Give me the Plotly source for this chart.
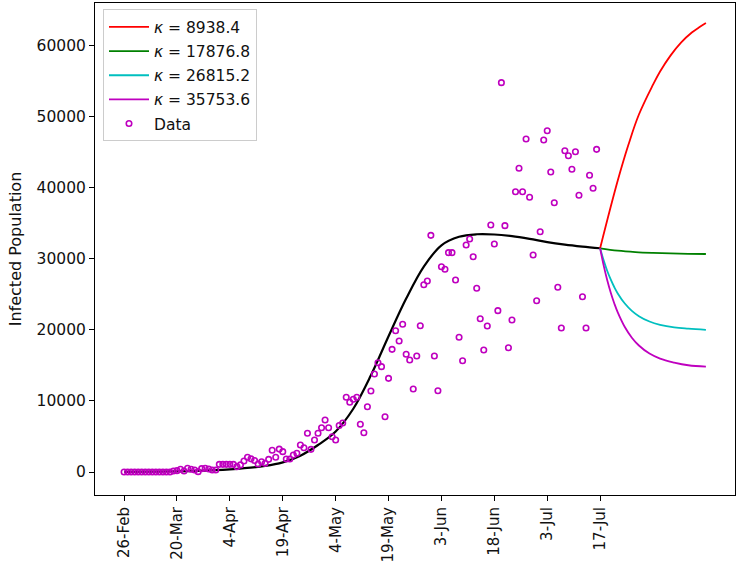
import plotly.graph_objects as go

# ---------------- data ----------------
tick_days = [0, 15, 30, 45, 60, 75, 90, 105, 120, 135]
tick_labels = ["26-Feb", "20-Mar", "4-Apr", "19-Apr", "4-May", "19-May",
               "3-Jun", "18-Jun", "3-Jul", "17-Jul"]

data_values = (
    [0] * 14
    + [140, 190, 380, 140, 520, 380, 280, 50, 470, 520, 420, 280, 280]
    + [1080] * 5
    + [750, 1000, 1550, 2070, 1850, 1620, 1125, 1450, 1220, 1780, 3050, 2070, 3220]
    + [2860, 1830, 1830, 2390, 2630, 3800, 3420, 5450, 3190, 4500, 5450, 6230,
       7320, 6230, 4970, 4500, 6540, 6900]
    + [10510, 9810, 10230, 10510, 6710, 5530, 9190, 11400, 13790, 15380, 14820,
       7780, 13180, 17260, 19880, 18430, 20780, 16560, 15760, 11680, 16320, 20580]
    + [26350, 26870, 33300, 16320, 11440, 28890, 28520, 30860, 30860, 27010,
       18950, 15660, 31940, 32780, 30290, 25850, 21570, 17170, 20540, 34750,
       32080, 22700]
    + [54780, 34660, 17490, 21390, 39440, 42730, 39440, 46850, 38650, 30530,
       24100, 33810, 46710, 48020, 42210, 37890, 25990, 20260, 45210, 44500,
       42590, 45070, 38930, 24660, 20260, 41750, 39920, 45400]
)
data_days = list(range(len(data_values)))

fit_days = [0, 10, 20, 30, 40, 45, 50, 55, 60, 65, 70, 75, 80, 85, 90, 95,
            100, 105, 110, 115, 120, 125, 130, 135]
fit_values = [20, 60, 150, 380, 850, 1350, 2300, 3800, 5700, 8900, 13600,
              19100, 24400, 28900, 31900, 33100, 33450, 33420, 33180, 32800,
              32350, 32000, 31720, 31480]

red_days = [135, 140, 143, 146, 150, 152, 155, 158, 161, 163, 165]
red_values = [31480, 41000, 46000, 50300, 54500, 56350, 58620, 60450, 61830,
              62540, 63170]

green_days = [135, 140, 145, 150, 155, 160, 165]
green_values = [31480, 31150, 30950, 30830, 30750, 30700, 30670]

cyan_days = [135, 136, 137, 138, 139, 140, 142, 144, 146, 149, 152, 156, 160, 165]
cyan_values = [31480, 29780, 28320, 27090, 26030, 25130, 23710, 22680, 21930,
               21170, 20710, 20350, 20160, 19990]

mag_days = [135, 136, 137, 138, 139, 140, 142, 144, 146, 149, 152, 156, 160, 165]
mag_values = [31480, 29070, 27010, 25260, 23750, 22460, 20400, 18900, 17800,
              16660, 15950, 15400, 15020, 14830]

kappa_labels = ["8938.4", "17876.8", "26815.2", "35753.6"]

# ---------------- figure ----------------
FONT = "DejaVu Sans"
TXT = "#111111"
fig = go.Figure()

fig.add_trace(go.Scatter(x=fit_days, y=fit_values, mode="lines",
                         line=dict(color="black", width=2.2, shape="spline"),
                         showlegend=False))

proj = [(red_days, red_values, "#ff0000"),
        (green_days, green_values, "#008000"),
        (cyan_days, cyan_values, "#00bfbf"),
        (mag_days, mag_values, "#bf00bf")]
for i, (dx, dy, col) in enumerate(proj):
    fig.add_trace(go.Scatter(x=dx, y=dy, mode="lines",
                             line=dict(color=col, width=1.8, shape="spline",
                                       smoothing=1.1),
                             name=f"<i>κ</i> = {kappa_labels[i]}",
                             legendgroup=f"g{i}"))

fig.add_trace(go.Scatter(x=data_days, y=data_values, mode="markers",
                         marker=dict(symbol="circle-open", size=5.5,
                                     color="#bf00bf", line=dict(width=1.6)),
                         name="Data", legendgroup="g5"))

axis_common = dict(showline=True, linecolor="black", linewidth=1, mirror=True,
                   showgrid=False, zeroline=False, ticks="outside",
                   ticklen=5, tickcolor="black")

fig.update_xaxes(range=[-8.25, 173.25], tickmode="array", tickvals=tick_days,
                 ticktext=tick_labels, tickangle=-90,
                 tickfont=dict(family=FONT, size=15, color=TXT), **axis_common)
fig.update_yaxes(range=[-3236, 65990], tickmode="array",
                 tickvals=[0, 10000, 20000, 30000, 40000, 50000, 60000],
                 ticktext=["0", "10000", "20000", "30000", "40000", "50000", "60000"],
                 tickfont=dict(family=FONT, size=15.5, color=TXT),
                 title=dict(text="Infected Population",
                            font=dict(family=FONT, size=16, color=TXT),
                            standoff=10),
                 **axis_common)

fig.update_layout(
    width=738, height=564,
    margin=dict(l=95, r=3, t=3, b=69, autoexpand=False),
    plot_bgcolor="white", paper_bgcolor="white",
    font=dict(family=FONT, size=15.5, color=TXT),
    legend=dict(x=0.0125, y=0.987, xanchor="left", yanchor="top",
                bgcolor="rgba(255,255,255,0.85)", bordercolor="#cccccc",
                borderwidth=1, tracegroupgap=1, itemwidth=40,
                font=dict(family=FONT, size=15.5, color=TXT)),
)

fig.write_html("out.html",
               config={"displayModeBar": False},
               post_script="document.body.style.margin='0px';"
                           "document.body.style.padding='0px';")
